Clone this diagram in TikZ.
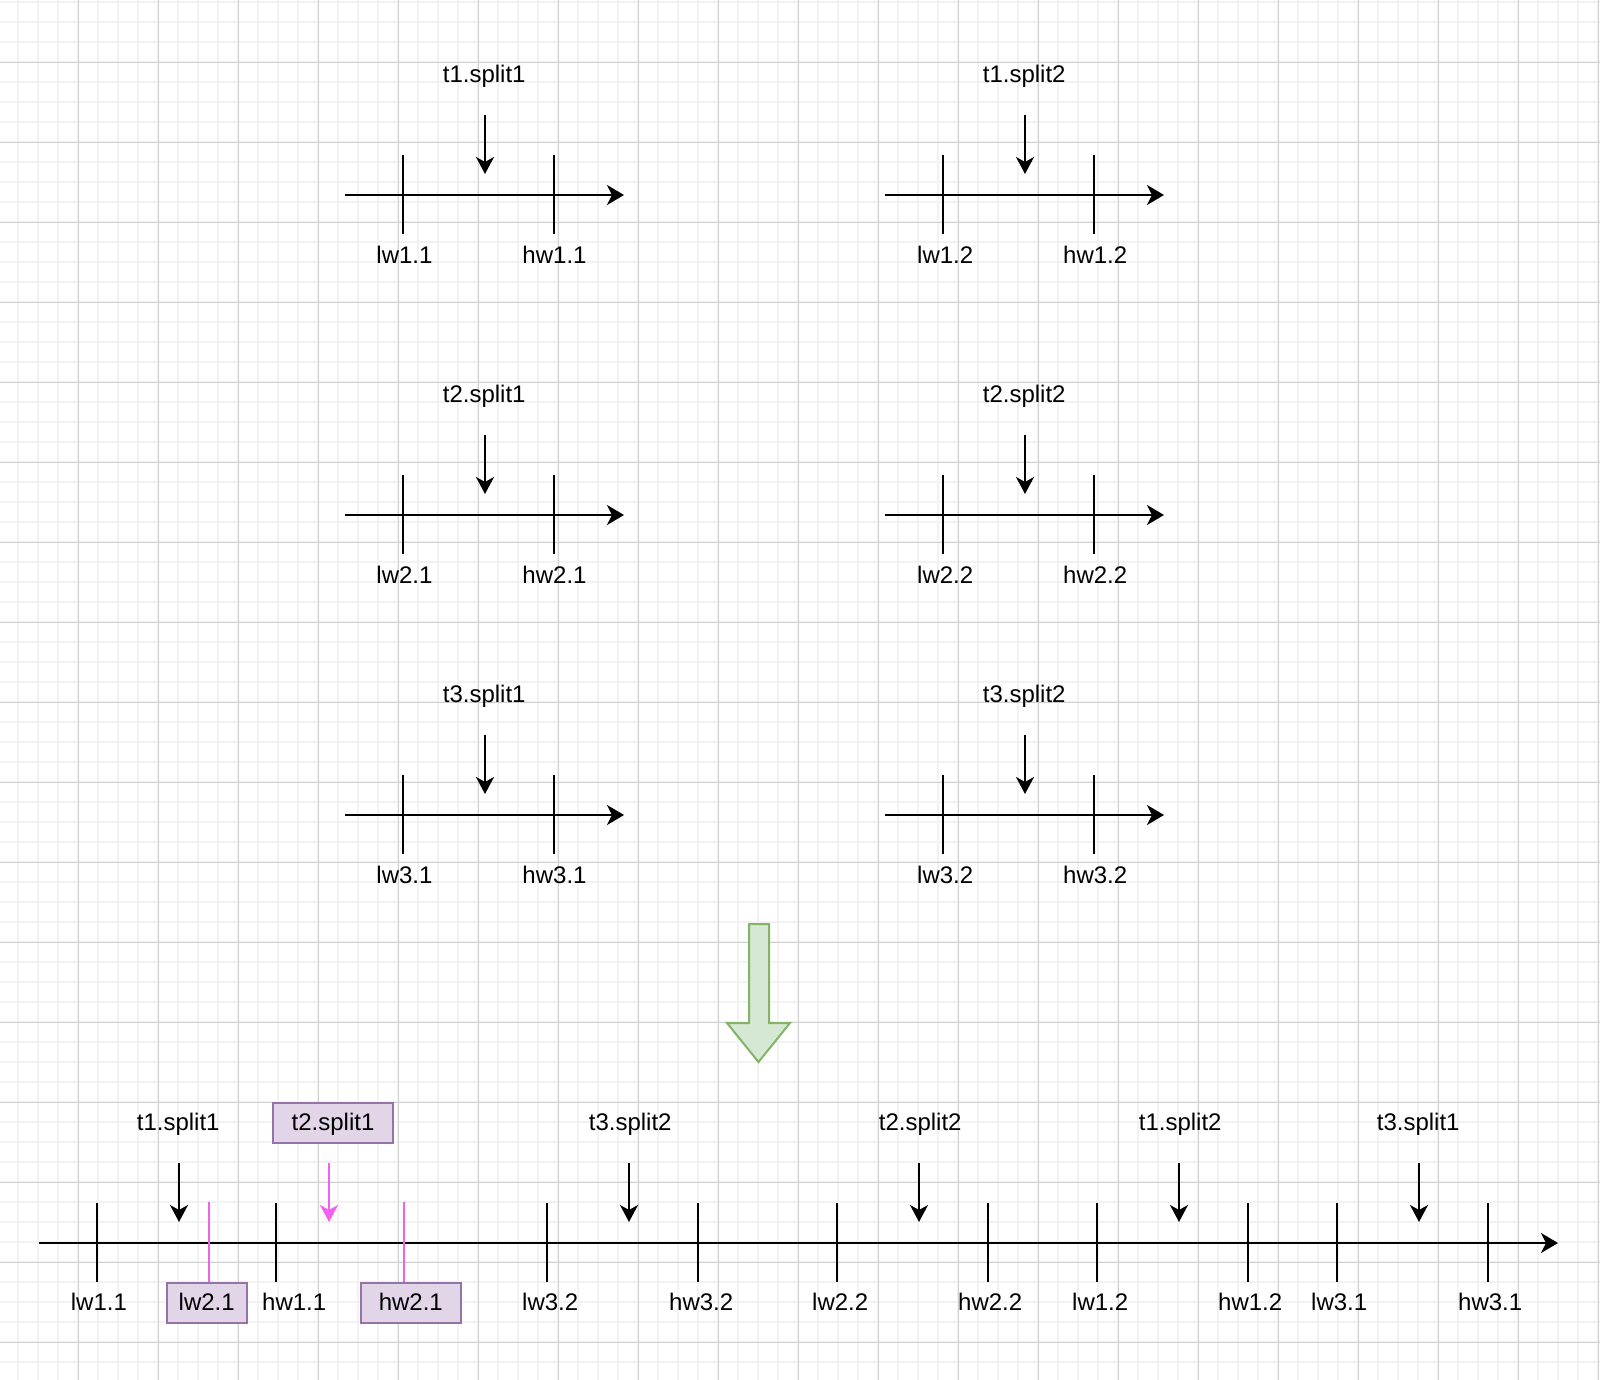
\documentclass[tikz,border=0pt]{standalone}
\usepackage{fontspec}
\setmainfont{Liberation Sans}
\usepackage{tikz}
\usetikzlibrary{arrows.meta}
\usetikzlibrary{calc}

\definecolor{gridmajor}{HTML}{D0D0D0}
\definecolor{gridminor}{HTML}{F2F2F2}
\definecolor{splitpink}{HTML}{F25FF2}
\definecolor{boxfill}{HTML}{E1D5E7}
\definecolor{boxline}{HTML}{9673A6}
\definecolor{mergefill}{HTML}{D5E8D4}
\definecolor{mergeline}{HTML}{82B366}

\begin{document}
\begin{tikzpicture}[x=0.5pt,y=-0.5pt,
    txt/.style={font=\fontsize{12pt}{14pt}\selectfont,inner sep=0pt,text height=10.1pt,text depth=2.5pt},
    lbl/.style={txt,xshift=0.6pt},
    hlbox/.style={txt,draw=boxline,fill=boxfill,line width=1pt,minimum height=20pt},
    axis/.style={line width=1pt,-{Stealth[length=8.5pt,width=10pt,inset=2.5pt]}},
    ptr/.style={line width=1pt,-{Stealth[length=8.5pt,width=9pt,inset=2.5pt]}},
    pinkptr/.style={ptr,draw=splitpink,-{Stealth[length=8.5pt,width=9pt,inset=2.5pt,fill=splitpink]}},
    tick/.style={line width=1pt},
    pinktick/.style={line width=1pt,draw=splitpink},
    merge/.style={draw=mergeline,fill=mergefill,line width=1pt,line join=miter}]

  \useasboundingbox (0,0) rectangle (1600,1380);
  \fill [white] (0,0) rectangle (1600,1380);
  \foreach \gx in {18.3,38.3,...,1600} \draw [gridminor,line width=0.9pt] (\gx,0) -- (\gx,1380);
  \foreach \gy in {2.3,22.3,...,1380} \draw [gridminor,line width=0.9pt] (0,\gy) -- (1600,\gy);
  \foreach \gx in {78.3,158.3,...,1600} \draw [gridmajor,line width=0.5pt] (\gx,0) -- (\gx,1380);
  \foreach \gy in {62.3,142.3,...,1380} \draw [gridmajor,line width=0.5pt] (0,\gy) -- (1600,\gy);

  % t1
  \coordinate (T11from) at (345,195);
  \coordinate (T11to) at (624,195);
  \coordinate (T11lw) at (403,195);
  \coordinate (T11hw) at (554,195);
  \coordinate (T11at) at (485,195);
  \node [lbl] (T11lab) at (483,74.6) {t1.split1};
  \node [lbl] (T11lwlab) at (403.3,255.6) {lw1.1};
  \node [lbl] (T11hwlab) at (553.3,255.6) {hw1.1};
  \draw [axis] (T11from) -- (T11to);
  \draw [tick] (T11lw) ++(0,-40) -- ++(0,79) (T11hw) ++(0,-40) -- ++(0,79);
  \draw [ptr] (T11at) ++(0,-80) -- ++(0,59);

  \coordinate (T12from) at (885,195);
  \coordinate (T12to) at (1164,195);
  \coordinate (T12lw) at (943,195);
  \coordinate (T12hw) at (1094,195);
  \coordinate (T12at) at (1025,195);
  \node [lbl] (T12lab) at (1023,74.6) {t1.split2};
  \node [lbl] (T12lwlab) at (944,255.6) {lw1.2};
  \node [lbl] (T12hwlab) at (1094,255.6) {hw1.2};
  \draw [axis] (T12from) -- (T12to);
  \draw [tick] (T12lw) ++(0,-40) -- ++(0,79) (T12hw) ++(0,-40) -- ++(0,79);
  \draw [ptr] (T12at) ++(0,-80) -- ++(0,59);

  % t2
  \coordinate (T21from) at (345,515);
  \coordinate (T21to) at (624,515);
  \coordinate (T21lw) at (403,515);
  \coordinate (T21hw) at (554,515);
  \coordinate (T21at) at (485,515);
  \node [lbl] (T21lab) at (483,394.6) {t2.split1};
  \node [lbl] (T21lwlab) at (403.3,575.6) {lw2.1};
  \node [lbl] (T21hwlab) at (553.3,575.6) {hw2.1};
  \draw [axis] (T21from) -- (T21to);
  \draw [tick] (T21lw) ++(0,-40) -- ++(0,79) (T21hw) ++(0,-40) -- ++(0,79);
  \draw [ptr] (T21at) ++(0,-80) -- ++(0,59);

  \coordinate (T22from) at (885,515);
  \coordinate (T22to) at (1164,515);
  \coordinate (T22lw) at (943,515);
  \coordinate (T22hw) at (1094,515);
  \coordinate (T22at) at (1025,515);
  \node [lbl] (T22lab) at (1023,394.6) {t2.split2};
  \node [lbl] (T22lwlab) at (944,575.6) {lw2.2};
  \node [lbl] (T22hwlab) at (1094,575.6) {hw2.2};
  \draw [axis] (T22from) -- (T22to);
  \draw [tick] (T22lw) ++(0,-40) -- ++(0,79) (T22hw) ++(0,-40) -- ++(0,79);
  \draw [ptr] (T22at) ++(0,-80) -- ++(0,59);

  % t3
  \coordinate (T31from) at (345,815);
  \coordinate (T31to) at (624,815);
  \coordinate (T31lw) at (403,815);
  \coordinate (T31hw) at (554,815);
  \coordinate (T31at) at (485,815);
  \node [lbl] (T31lab) at (483,694.6) {t3.split1};
  \node [lbl] (T31lwlab) at (403.3,875.6) {lw3.1};
  \node [lbl] (T31hwlab) at (553.3,875.6) {hw3.1};
  \draw [axis] (T31from) -- (T31to);
  \draw [tick] (T31lw) ++(0,-40) -- ++(0,79) (T31hw) ++(0,-40) -- ++(0,79);
  \draw [ptr] (T31at) ++(0,-80) -- ++(0,59);

  \coordinate (T32from) at (885,815);
  \coordinate (T32to) at (1164,815);
  \coordinate (T32lw) at (943,815);
  \coordinate (T32hw) at (1094,815);
  \coordinate (T32at) at (1025,815);
  \node [lbl] (T32lab) at (1023,694.6) {t3.split2};
  \node [lbl] (T32lwlab) at (944,875.6) {lw3.2};
  \node [lbl] (T32hwlab) at (1094,875.6) {hw3.2};
  \draw [axis] (T32from) -- (T32to);
  \draw [tick] (T32lw) ++(0,-40) -- ++(0,79) (T32hw) ++(0,-40) -- ++(0,79);
  \draw [ptr] (T32at) ++(0,-80) -- ++(0,59);

  \draw [merge] (749,924) -- (769,924) -- (769,1023) -- (790,1023) -- (758.5,1062)
    -- (727,1023) -- (749,1023) -- cycle;

  % merged
  \coordinate (Mfrom) at (39,1243);
  \coordinate (Mto) at (1558,1243);
  \coordinate (Mtlw11) at (97,1243);
  \coordinate (Mtlw21) at (209,1243);
  \coordinate (Mthw11) at (276,1243);
  \coordinate (Mthw21) at (404,1243);
  \coordinate (Mtlw32) at (547,1243);
  \coordinate (Mthw32) at (698,1243);
  \coordinate (Mtlw22) at (837,1243);
  \coordinate (Mthw22) at (988,1243);
  \coordinate (Mtlw12) at (1097,1243);
  \coordinate (Mthw12) at (1248,1243);
  \coordinate (Mtlw31) at (1337,1243);
  \coordinate (Mthw31) at (1488,1243);
  \coordinate (Mat11) at (179,1243);
  \coordinate (Mat21) at (329,1243);
  \coordinate (Mat32) at (629,1243);
  \coordinate (Mat22) at (919,1243);
  \coordinate (Mat12) at (1179,1243);
  \coordinate (Mat31) at (1419,1243);

  \node [lbl] (Mlab11) at (177,1123) {t1.split1};
  \node [hlbox,minimum width=60pt] (Mlab21) at (333,1122.7) {t2.split1};
  \node [lbl] (Mlab32) at (629,1123) {t3.split2};
  \node [lbl] (Mlab22) at (919,1123) {t2.split2};
  \node [lbl] (Mlab12) at (1179,1123) {t1.split2};
  \node [lbl] (Mlab31) at (1417,1123) {t3.split1};

  \node [lbl] (Mlw11) at (97.7,1303) {lw1.1};
  \node [hlbox,minimum width=40pt] (Mlw21) at (206.7,1302.7) {lw2.1};
  \node [lbl] (Mhw11) at (293,1303) {hw1.1};
  \node [hlbox,minimum width=50pt] (Mhw21) at (410.8,1302.7) {hw2.1};
  \node [lbl] (Mlw32) at (549,1303) {lw3.2};
  \node [lbl] (Mhw32) at (700,1303) {hw3.2};
  \node [lbl] (Mlw22) at (839,1303) {lw2.2};
  \node [lbl] (Mhw22) at (989,1303) {hw2.2};
  \node [lbl] (Mlw12) at (1099,1303) {lw1.2};
  \node [lbl] (Mhw12) at (1249,1303) {hw1.2};
  \node [lbl] (Mlw31) at (1338,1303) {lw3.1};
  \node [lbl] (Mhw31) at (1489,1303) {hw3.1};

  \draw [axis] (Mfrom) -- (Mto);
  \draw [tick]
    (Mtlw11) ++(0,-40) -- ++(0,79)
    (Mthw11) ++(0,-40) -- ++(0,79)
    (Mtlw32) ++(0,-40) -- ++(0,79)
    (Mthw32) ++(0,-40) -- ++(0,79)
    (Mtlw22) ++(0,-40) -- ++(0,79)
    (Mthw22) ++(0,-40) -- ++(0,79)
    (Mtlw12) ++(0,-40) -- ++(0,79)
    (Mthw12) ++(0,-40) -- ++(0,79)
    (Mtlw31) ++(0,-40) -- ++(0,79)
    (Mthw31) ++(0,-40) -- ++(0,79);
  \draw [pinktick] (Mlw21.north -| Mtlw21) -- ++(0,-80);
  \draw [pinktick] (Mhw21.north -| Mthw21) -- ++(0,-80);

  \draw [ptr] (Mat11) ++(0,-80) -- ++(0,59);
  \draw [ptr] (Mat32) ++(0,-80) -- ++(0,59);
  \draw [ptr] (Mat22) ++(0,-80) -- ++(0,59);
  \draw [ptr] (Mat12) ++(0,-80) -- ++(0,59);
  \draw [ptr] (Mat31) ++(0,-80) -- ++(0,59);
  \draw [pinkptr] (Mat21) ++(0,-80) -- ++(0,59);

\end{tikzpicture}
\end{document}
